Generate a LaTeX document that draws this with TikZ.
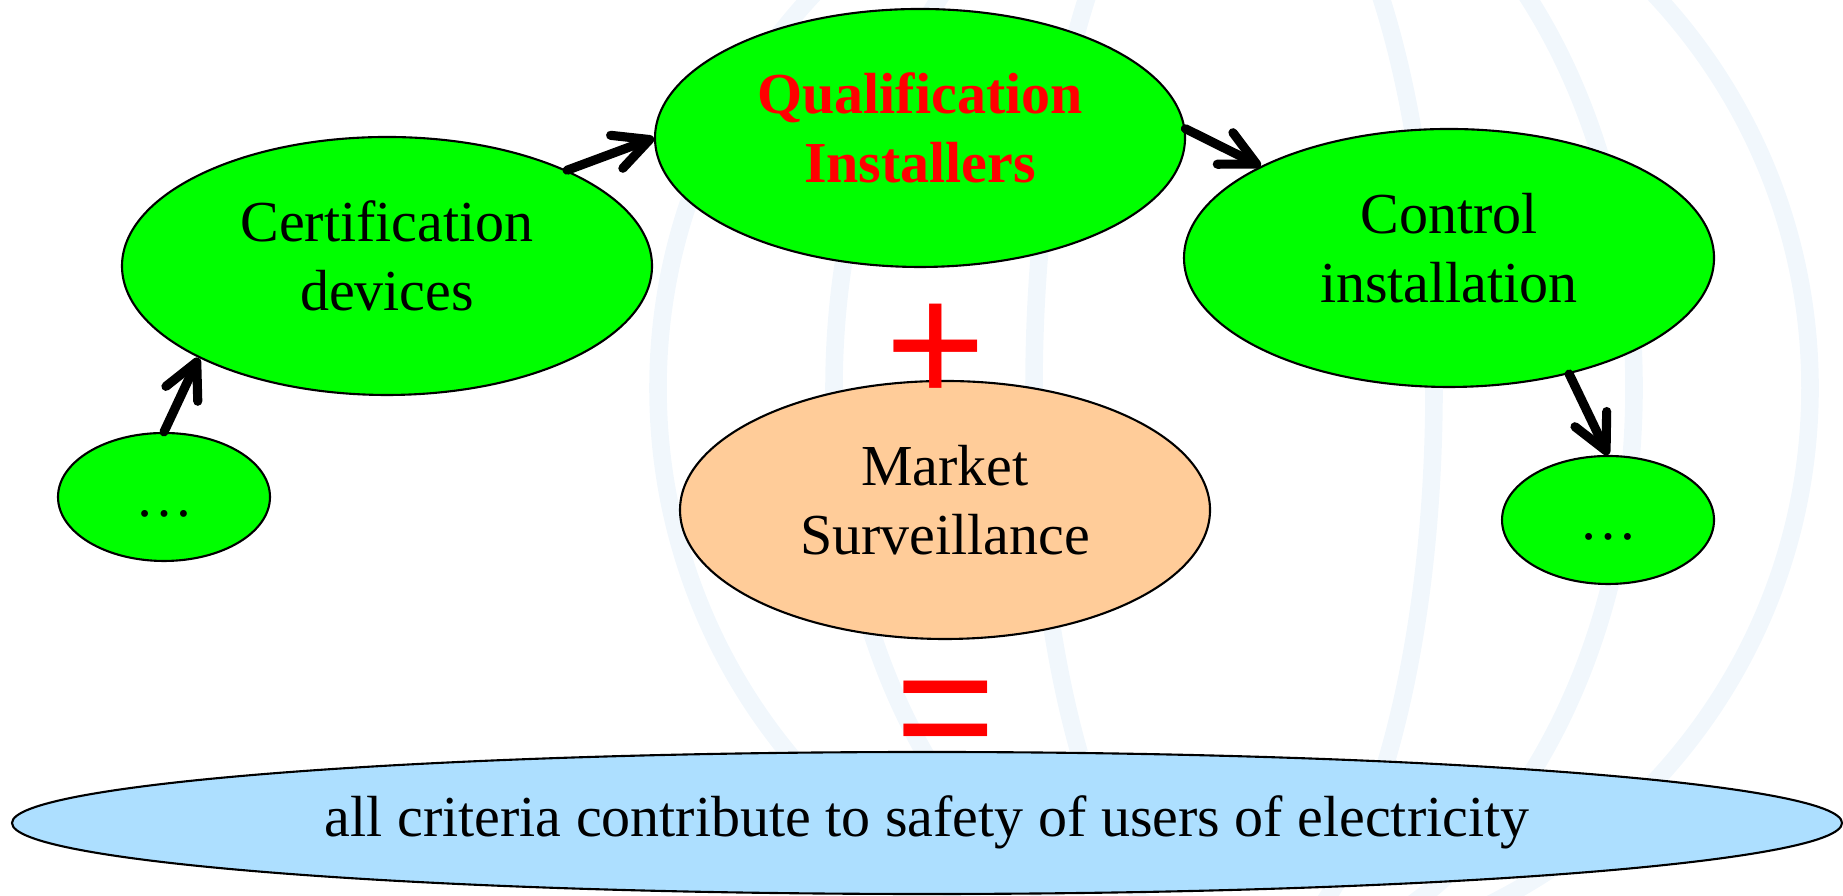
\documentclass[tikz,border=0pt]{standalone}
\usepackage{fontspec}
\setmainfont{Liberation Serif}
\newfontfamily\signfont{Liberation Sans}
\usetikzlibrary{shapes.geometric,arrows.meta}
\definecolor{bubble}{RGB}{0,255,0}
\definecolor{peach}{RGB}{255,204,153}
\definecolor{sky}{RGB}{173,223,255}
\definecolor{globe}{RGB}{241,247,252}

\begin{document}
\begin{tikzpicture}
[criterion/.style={ellipse, draw, line width=0.6pt, fill=bubble, inner sep=0pt, align=center,
  minimum width=5.3cm, minimum height=2.58cm, font=\fontsize{16.5}{19.7}\selectfont},
more/.style={criterion, minimum width=2.12cm, minimum height=1.28cm},
market/.style={criterion, fill=peach},
result/.style={criterion, fill=sky, minimum width=18.3cm, minimum height=1.42cm},
flow/.style={line width=2.6pt, line cap=round,
  -{Straight Barb[length=10pt, width=10pt, line cap=round, line join=round]}},
sign/.style={red, inner sep=0pt, anchor=base, font=\signfont\fontsize{49}{49}\selectfont},
globe line/.style={globe, line width=5pt}]
\useasboundingbox (0,0) rectangle (18.43,8.96);
% faint globe behind
\draw[globe line] (12.34,5.08) circle (5.76);
\draw[globe line] (12.34,5.08) ellipse (2.0 and 5.76);
\draw[globe line] (12.34,5.08) ellipse (4.0 and 5.76);
% criteria
\node[criterion] (cert) at (3.87,6.30) {Certification\\devices\strut};
\node[criterion, text=red, font=\fontsize{16.5}{19.7}\selectfont\bfseries] (qual) at (9.20,7.58) {Qualification\\Installers\strut};
\node[criterion] (ctrl) at (14.49,6.38) {Control\\installation\strut};
\node[market] (market) at (9.45,3.86) {Market\\Surveillance\strut};
\node[more] (before) at (1.64,3.99) {\dots\rule[-1pt]{0pt}{13pt}};
\node[more] (after) at (16.08,3.76) {\dots\rule[-1pt]{0pt}{13pt}};
\node[result] (safety) at (9.27,0.73) {all criteria contribute to safety of users of electricity\strut};
\node[sign] (plus) at (9.36,4.92) {+};
\node[sign] (equal) at (9.455,1.30) {=};
% chain
\draw[flow] (before.north) -- (cert.206);
\draw[flow] (cert.28) -- (qual.180);
\draw[flow] (qual.2) -- (ctrl.154);
\draw[flow] (ctrl.316) -- (after.north);
\end{tikzpicture}
\end{document}
